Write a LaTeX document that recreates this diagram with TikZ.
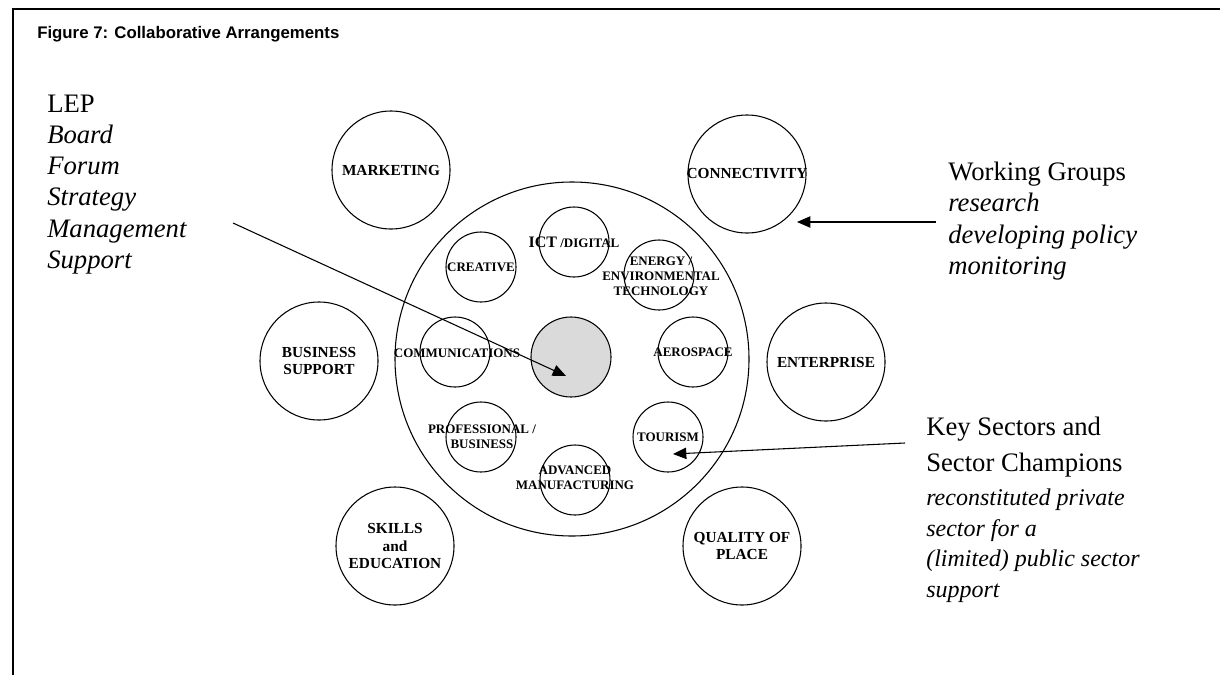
\documentclass[tikz,border=0pt]{standalone}
\usepackage{fontspec}
\setmainfont{Liberation Serif}
\newfontfamily\arialfont{Liberation Sans}
\usetikzlibrary{arrows.meta}
\definecolor{hubgray}{RGB}{218,218,218}
\tikzset{
  ring/.style={circle, draw, line width=0.8pt, inner sep=0pt, outer sep=0pt},
  bigring/.style={ring, minimum size=88.5pt},
  smallring/.style={ring, minimum size=52.5pt},
  outlab/.style={font=\fontsize{11.5}{13.2}\selectfont\bfseries, align=center, inner sep=0pt},
  inlab/.style={font=\fontsize{9.75}{11.25}\selectfont\bfseries, align=center, inner sep=0pt},
  sidetext/.style={font=\fontsize{20}{23.4}\selectfont, align=left, inner sep=0pt, anchor=north west},
  arr/.style={line width=0.8pt, -{Triangle[length=10pt,width=8.5pt]}},
}
\begin{document}
\begin{tikzpicture}[x=0.75pt,y=-0.75pt]
\useasboundingbox (0,0) rectangle (1220,675);
% frame
\coordinate (fbl) at (13,675);
\coordinate (ftl) at (13,9);
\coordinate (ftr) at (1220,9);
\draw[line width=1.5pt] (fbl) -- (ftl) -- (ftr);
% title
\node[anchor=base west, inner sep=0pt, font=\arialfont\bfseries\fontsize{12.6}{15}\selectfont] (title) at (37,38) {Figure 7: Collaborative Arrangements};

% central large circle
\node[ring, minimum size=265.5pt] (core) at (572,359) {};
\node[ring, minimum size=60pt, fill=hubgray] (hub) at (571,357) {};

% outer circles
\node[bigring] (mkt) at (391,170) {};
\node[outlab] (mktl) at (mkt) {MARKETING};
\node[bigring] (conn) at (747,174) {};
\node[outlab] (connl) at (conn) {CONNECTIVITY};
\node[bigring] (bus) at (319,361) {};
\node[outlab] (busl) at (bus) {BUSINESS\\SUPPORT};
\node[bigring] (ent) at (826,362) {};
\node[outlab] (entl) at (ent) {ENTERPRISE};
\node[bigring] (skl) at (395,546) {};
\node[outlab] (skll) at (skl) {SKILLS\\and\\EDUCATION};
\node[bigring] (qop) at (742,546) {};
\node[outlab] (qopl) at (qop) {QUALITY OF\\PLACE};

% inner sector circles
\node[smallring] (ict) at (574,242) {};
\node[inlab] (ictl) at (574,242) {{\fontsize{12}{14}\selectfont ICT} /DIGITAL};
\node[smallring] (cre) at (481,267) {};
\node[inlab] (crel) at (cre) {CREATIVE};
\node[smallring] (ene) at (659,275) {};
\node[inlab] (enel) at (661,276) {ENERGY /\\ENVIRONMENTAL\\TECHNOLOGY};
\node[smallring] (com) at (455,352) {};
\node[inlab] (coml) at (457,353) {COMMUNICATIONS};
\node[smallring] (aer) at (693,352) {};
\node[inlab] (aerl) at (aer) {AEROSPACE};
\node[smallring] (pro) at (481,437) {};
\node[inlab] (prol) at (482,437) {PROFESSIONAL /\\BUSINESS};
\node[smallring] (tou) at (668,437) {};
\node[inlab] (toul) at (tou) {TOURISM};
\node[smallring] (adv) at (575,480) {};
\node[inlab] (advl) at (575,478) {ADVANCED\\MANUFACTURING};

% side texts
\node[sidetext] (lep) at (47,94.5) {LEP\\\textit{Board}\\\textit{Forum}\\\textit{Strategy}\\\textit{Management}\\\textit{Support}};
\node[sidetext] (wg) at (948,162) {Working Groups\\\textit{research}\\\textit{developing policy}\\\textit{monitoring}};
\node[sidetext, font=\fontsize{20}{27}\selectfont] (ks) at (926,417) {Key Sectors and\\Sector Champions};
\node[sidetext, font=\fontsize{18}{22.8}\selectfont\itshape] (ksd) at (926,489) {reconstituted private\\sector for a\\(limited) public sector\\support};

% arrows
\coordinate (lepS) at (233,223);
\coordinate (lepT) at (566,376);
\draw[arr] (lepS) -- (lepT);
\coordinate (wgS) at (936,222);
\coordinate (wgT) at (797,222);
\draw[arr] (wgS) -- (wgT);
\coordinate (ksS) at (905,443);
\coordinate (ksT) at (673,454);
\draw[arr] (ksS) -- (ksT);
\end{tikzpicture}
\end{document}
